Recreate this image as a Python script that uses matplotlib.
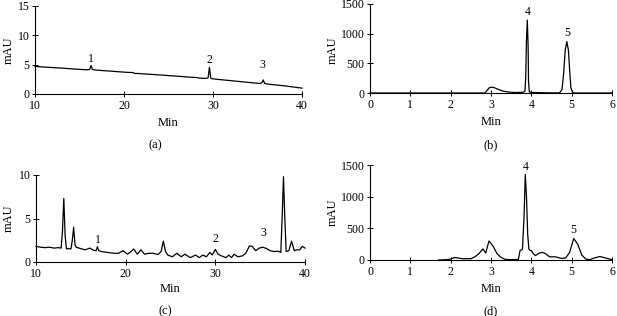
import matplotlib
matplotlib.use("Agg")
import matplotlib.pyplot as plt

plt.rcParams['font.family'] = ['Liberation Serif', 'DejaVu Serif']

W, H = 617, 316

# (a) standard mixture, low scale
a_t = [10, 11, 12, 13, 14, 15, 15.9, 16.15, 16.3, 16.45, 16.7, 17.5, 18.5, 19.5, 20.5,
       21.0, 21.2, 21.5, 22.5, 23.5, 24.5, 25.5, 26.5, 27.5, 28.2, 28.5, 29.2, 29.45,
       29.6, 29.75, 29.9, 30.5, 31.5, 32.5, 33.5, 34.5, 35.3, 35.5, 35.65, 35.8, 36.0,
       37, 38, 39, 40]
a_v = [4.7, 4.6, 4.5, 4.42, 4.3, 4.2, 4.12, 4.2, 4.85, 4.2, 4.1, 4.0, 3.9, 3.78, 3.68,
       3.66, 3.5, 3.5, 3.4, 3.3, 3.2, 3.08, 2.98, 2.86, 2.8, 2.7, 2.67, 2.75,
       4.55, 2.7, 2.6, 2.5, 2.35, 2.2, 2.05, 1.9, 1.8, 1.95, 2.4, 1.8, 1.72,
       1.55, 1.4, 1.2, 1.0]

# (b) standard mixture, high scale
b_t = [0, 2.85, 2.9, 2.95, 3.0, 3.05, 3.1, 3.2, 3.3, 3.4, 3.5, 3.6, 3.8, 3.84, 3.86,
       3.88, 3.9, 3.92, 3.93, 3.95, 4.0, 4.2, 4.5, 4.7, 4.76, 4.8, 4.84, 4.88, 4.92,
       4.95, 4.98, 5.02, 5.06, 6.0]
b_v = [0, 0, 40, 85, 98, 95, 85, 55, 32, 20, 12, 8, 12, 30, 250,
       900, 1230, 800, 200, 20, 10, 5, 2, 2, 60, 320, 720, 865, 720,
       380, 90, 15, 0, 0]

# (c) sample extract, low scale
c_t = [10, 10.5, 11, 11.5, 12, 12.5, 12.8, 12.95, 13.1, 13.25, 13.4, 13.6, 13.9, 14.05,
       14.2, 14.35, 14.5, 14.8, 15.1, 15.5, 16.0, 16.4, 16.7, 16.85, 17.0, 17.3, 18.0,
       18.7, 19.2, 19.7, 20.2, 20.6, 20.9, 21.3, 21.7, 22.1, 22.6, 23.1, 23.6, 23.95,
       24.2, 24.45, 24.7, 25.2, 25.7, 26.2, 26.6, 27.2, 27.8, 28.2, 28.6, 29.0, 29.4,
       29.65, 30.0, 30.3, 30.7, 31.2, 31.5, 31.8, 32.1, 32.5, 33.0, 33.4, 33.8, 34.1,
       34.5, 34.9, 35.3, 35.7, 36.1, 36.6, 37.0, 37.3, 37.45, 37.6, 37.75, 37.9, 38.2,
       38.5, 38.8, 39.1, 39.4, 39.7, 40]
c_v = [1.8, 1.7, 1.65, 1.7, 1.6, 1.65, 1.6, 3.5, 7.3, 3.0, 1.5, 1.55, 1.5, 2.5,
       4.0, 2.0, 1.7, 1.6, 1.5, 1.4, 1.6, 1.35, 1.3, 1.75, 1.3, 1.2, 1.1,
       1.0, 1.0, 1.3, 0.9, 1.2, 1.5, 0.9, 1.4, 0.9, 1.0, 1.0, 0.85, 1.2,
       2.4, 1.2, 0.8, 0.6, 1.0, 0.6, 0.9, 0.5, 0.8, 0.5, 0.8, 0.6, 1.1,
       0.8, 1.45, 0.9, 0.7, 0.5, 0.8, 0.5, 0.9, 0.6, 0.7, 1.0, 1.85, 1.8,
       1.3, 1.6, 1.7, 1.55, 1.3, 1.2, 1.25, 1.1, 5.0, 9.8, 5.0, 1.2, 1.3,
       2.4, 1.3, 1.4, 1.4, 1.8, 1.6]

# (d) sample extract, high scale
d_t = [1.7, 1.9, 2.0, 2.1, 2.2, 2.3, 2.5, 2.6, 2.7, 2.8, 2.87, 2.95, 3.05, 3.15, 3.25,
       3.35, 3.5, 3.68, 3.72, 3.78, 3.82, 3.85, 3.88, 3.91, 3.94, 3.97, 4.0, 4.05, 4.1,
       4.2, 4.28, 4.35, 4.45, 4.6, 4.75, 4.85, 4.95, 5.05, 5.15, 5.25, 5.35, 5.45, 5.55,
       5.7, 5.85, 6.0]
d_v = [0, 5, 15, 40, 30, 20, 20, 50, 100, 175, 110, 300, 220, 100, 40,
       10, 5, 10, 150, 170, 700, 1350, 1000, 400, 170, 150, 150, 100, 70,
       110, 120, 100, 50, 50, 25, 30, 120, 340, 250, 80, 15, 5, 30,
       55, 30, 5]


def fx(px):
    return px / W


def fy(py):
    return 1 - py / H


fig = plt.figure(figsize=(W / 100, H / 100), dpi=100)

panels = [
    dict(box=(35, 302, 94, 6), t=a_t, v=a_v, xlim=(10, 40), ylim=(0, 15),
         xt=[10, 20, 30, 40], yt=[0, 5, 10, 15],
         peaks=[('1', 16.3, 6.0), ('2', 29.6, 5.8), ('3', 35.6, 5.0)],
         minxy=(168, 123), mau=(9, 50), tag=('(a)', 155, 145)),
    dict(box=(370, 612, 93, 4), t=b_t, v=b_v, xlim=(0, 6), ylim=(0, 1500),
         xt=[0, 1, 2, 3, 4, 5, 6], yt=[0, 500, 1000, 1500],
         peaks=[('4', 3.9, 1370), ('5', 4.9, 1005)],
         minxy=(491, 122), mau=(333, 50), tag=('(b)', 491, 145)),
    dict(box=(36, 305, 262, 175), t=c_t, v=c_v, xlim=(10, 40), ylim=(0, 10),
         xt=[10, 20, 30, 40], yt=[0, 5, 10],
         peaks=[('1', 16.9, 2.5), ('2', 30.0, 2.6), ('3', 35.4, 3.3)],
         minxy=(170, 289), mau=(9, 218), tag=('(c)', 165, 311)),
    dict(box=(370, 612, 260, 165), t=d_t, v=d_v, xlim=(0, 6), ylim=(0, 1500),
         xt=[0, 1, 2, 3, 4, 5, 6], yt=[0, 500, 1000, 1500],
         peaks=[('4', 3.85, 1463), ('5', 5.05, 474)],
         minxy=(491, 289), mau=(333, 212), tag=('(d)', 491, 311)),
]

for p in panels:
    l, r, b, t = p['box']
    ax = fig.add_axes([fx(l), fy(b), fx(r) - fx(l), fy(t) - fy(b)])
    for s in ['top', 'right']:
        ax.spines[s].set_visible(False)
    for s in ['left', 'bottom']:
        ax.spines[s].set_linewidth(0.8)
    ax.tick_params(direction='inout', length=4, width=0.7, pad=2, labelsize=8.5)
    ax.plot(p['t'], p['v'], color='black', lw=0.9, clip_on=False)
    ax.set_xlim(*p['xlim'])
    ax.set_ylim(*p['ylim'])
    ax.set_xticks(p['xt'])
    ax.set_yticks(p['yt'])
    for name, x, y in p['peaks']:
        ax.text(x, y, name, ha='center', va='center', fontsize=8.5)
    fig.text(fx(p['minxy'][0]), fy(p['minxy'][1]), 'Min', ha='center', va='center', fontsize=9)
    fig.text(fx(p['mau'][0]), fy(p['mau'][1]), 'mAU', ha='center', va='center',
             rotation=90, fontsize=9)
    tag, tx, ty = p['tag']
    fig.text(fx(tx), fy(ty), tag, ha='center', va='center', fontsize=9)

fig.savefig('out.png', dpi=100)
